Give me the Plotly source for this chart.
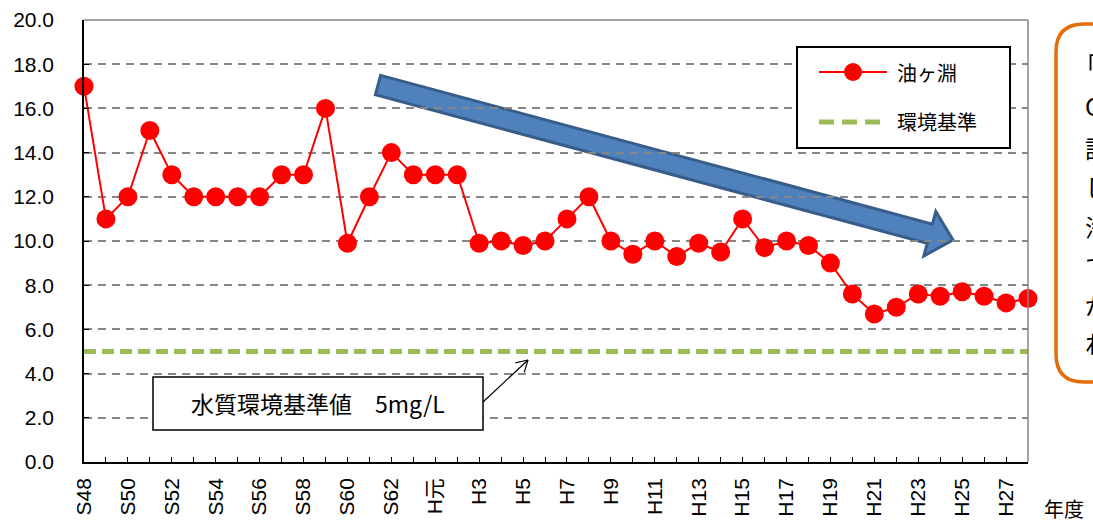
import plotly.graph_objects as go
import math

categories = ["S48","S49","S50","S51","S52","S53","S54","S55","S56","S57","S58","S59","S60","S61","S62","S63",
              "H元","H2","H3","H4","H5","H6","H7","H8","H9","H10","H11","H12","H13","H14","H15","H16","H17",
              "H18","H19","H20","H21","H22","H23","H24","H25","H26","H27","H28"]
abura = [17.0,11.0,12.0,15.0,13.0,12.0,12.0,12.0,12.0,13.0,13.0,16.0,9.9,12.0,14.0,13.0,
         13.0,13.0,9.9,10.0,9.8,10.0,11.0,12.0,10.0,9.4,10.0,9.3,9.9,9.5,11.0,9.7,10.0,
         9.8,9.0,7.6,6.7,7.0,7.6,7.5,7.7,7.5,7.2,7.4]
standard_value = 5.0
standard = [standard_value] * len(categories)

W, H = 1093, 524
L, R, T, B = 84, 1028, 20, 462
def px(x): return (x - L) / (R - L)
def py(y): return (B - y) / (B - T)

JP = "Noto Sans CJK JP"
LAT = "Liberation Sans, Noto Sans CJK JP"

xi = list(range(len(categories)))
fig = go.Figure()
fig.add_trace(go.Scatter(x=xi, y=standard, mode="lines", name="環境基準",
                         line=dict(color="#9BBB59", width=5, dash="12px,6px"), hoverinfo="skip"))
fig.add_trace(go.Scatter(x=xi, y=abura, mode="lines+markers", name="油ヶ淵",
                         line=dict(color="#FF0000", width=2),
                         marker=dict(color="#FF0000", size=19), cliponaxis=False))

shapes = []
shapes.append(dict(type="line", xref="paper", yref="paper", x0=0, x1=1, y0=1, y1=1,
                   line=dict(color="#868686", width=1.5)))
shapes.append(dict(type="line", xref="paper", yref="paper", x0=1, x1=1, y0=0, y1=1,
                   line=dict(color="#868686", width=1.5)))

# big blue arrow
Tx, Ty, Px, Py = 378, 85, 953, 240
dx, dy = Px - Tx, Py - Ty
ln = math.hypot(dx, dy)
d = (dx / ln, dy / ln); n = (-d[1], d[0])
Bx, By = Px - 24 * d[0], Py - 24 * d[1]
pts = [(Tx - 10 * n[0], Ty - 10 * n[1]), (Bx - 10 * n[0], By - 10 * n[1]),
       (Bx - 23 * n[0], By - 23 * n[1]), (Px, Py),
       (Bx + 23 * n[0], By + 23 * n[1]), (Bx + 10 * n[0], By + 10 * n[1]),
       (Tx + 10 * n[0], Ty + 10 * n[1])]
path = "M " + " L ".join(f"{px(a):.5f},{py(b):.5f}" for a, b in pts) + " Z"
shapes.append(dict(type="path", xref="paper", yref="paper", path=path,
                   fillcolor="#4F81BD", line=dict(color="#385D8A", width=3), layer="below"))

# legend box
shapes.append(dict(type="rect", xref="paper", yref="paper", x0=px(797), x1=px(1010), y0=py(148), y1=py(47),
                   fillcolor="white", line=dict(color="black", width=2)))
shapes.append(dict(type="line", xref="paper", yref="paper", x0=px(819), x1=px(887), y0=py(72), y1=py(72),
                   line=dict(color="#FF0000", width=2)))
shapes.append(dict(type="circle", xref="paper", yref="paper", x0=px(844), x1=px(862), y0=py(81), y1=py(63),
                   fillcolor="#FF0000", line=dict(color="#FF0000", width=0)))
shapes.append(dict(type="line", xref="paper", yref="paper", x0=px(819), x1=px(884), y0=py(122), y1=py(122),
                   line=dict(color="#9BBB59", width=5, dash="15px,8px")))

# annotation box
shapes.append(dict(type="rect", xref="paper", yref="paper", x0=px(153), x1=px(483), y0=py(430), y1=py(377),
                   fillcolor="white", line=dict(color="black", width=1.5)))
ax0, ay0, ax1, ay1 = 483, 402, 528, 360
shapes.append(dict(type="line", xref="paper", yref="paper", x0=px(ax0), y0=py(ay0), x1=px(ax1), y1=py(ay1),
                   line=dict(color="black", width=1.2)))
ux, uy = ax1 - ax0, ay1 - ay0
ul = math.hypot(ux, uy); ux, uy = ux / ul, uy / ul
for ang in (math.radians(30), math.radians(-30)):
    bx = -(ux * math.cos(ang) - uy * math.sin(ang)) * 13
    by = -(ux * math.sin(ang) + uy * math.cos(ang)) * 13
    shapes.append(dict(type="line", xref="paper", yref="paper", x0=px(ax1), y0=py(ay1),
                       x1=px(ax1 + bx), y1=py(ay1 + by), line=dict(color="black", width=1.2)))

# orange rounded box (clipped at right)
r = 28
xl, yt, yb, xr = 1056, 24, 382, 1200
opath = (f"M {px(xr)},{py(yt)} L {px(xl + r)},{py(yt)} Q {px(xl)},{py(yt)} {px(xl)},{py(yt + r)} "
         f"L {px(xl)},{py(yb - r)} Q {px(xl)},{py(yb)} {px(xl + r)},{py(yb)} L {px(xr)},{py(yb)}")
shapes.append(dict(type="path", xref="paper", yref="paper", path=opath,
                   line=dict(color="#E46C0A", width=3.5)))

annotations = []
annotations.append(dict(xref="paper", yref="paper", x=px(895), y=py(72), text="油ヶ淵", showarrow=False,
                        xanchor="left", yanchor="middle", font=dict(family=JP, size=20, color="black")))
annotations.append(dict(xref="paper", yref="paper", x=px(895), y=py(122), text="環境基準", showarrow=False,
                        xanchor="left", yanchor="middle", font=dict(family=JP, size=20, color="black")))
annotations.append(dict(xref="paper", yref="paper", x=px(318), y=py(403), text="水質環境基準値　5mg/L",
                        showarrow=False, xanchor="center", yanchor="middle",
                        font=dict(family=JP, size=23, color="black")))
annotations.append(dict(xref="paper", yref="paper", x=px(1042), y=py(508), text="年度", showarrow=False,
                        xanchor="left", yanchor="middle", font=dict(family=JP, size=20, color="black")))
box_lines = ["「油ヶ淵」", "COD値は", "計画的な", "しゅんせつ", "浄化対策", "て改善", "が見ら", "れる"]
box_y = [65, 106, 147, 186, 226, 265, 304, 342]
box_x = [1072, 1083, 1083, 1083, 1083, 1083, 1083, 1083]
for t, xx, yy in zip(box_lines, box_x, box_y):
    annotations.append(dict(xref="paper", yref="paper", x=px(xx), y=py(yy), text=t, showarrow=False,
                            xanchor="left", yanchor="middle", font=dict(family=JP, size=24, color="black")))

fig.update_layout(
    width=W, height=H,
    margin=dict(l=L, r=W - R, t=T, b=H - B, autoexpand=False),
    paper_bgcolor="white", plot_bgcolor="rgba(0,0,0,0)",
    showlegend=False,
    shapes=shapes, annotations=annotations,
    font=dict(family=LAT, color="black"),
)
fig.update_xaxes(range=[0, len(categories) - 1], tickmode="array",
                 tickvals=xi[::2], ticktext=categories[::2], tickangle=-90,
                 tickfont=dict(family=LAT, size=21, color="black"),
                 ticks="inside", ticklen=5, tickcolor="black", tickwidth=1,
                 minor=dict(dtick=1, tick0=0, ticks="inside", ticklen=5, tickcolor="black", showgrid=False),
                 showgrid=False, zeroline=False, showline=True, linecolor="black", linewidth=1.5,
                 ticklabelstandoff=6, automargin=False)
fig.update_yaxes(range=[0, 20], dtick=2, tickformat=".1f",
                 tickfont=dict(family=LAT, size=21, color="black"),
                 ticks="inside", ticklen=5, tickcolor="black",
                 showgrid=True, gridcolor="#868686", gridwidth=1.5, griddash="8px,6px",
                 zeroline=False, showline=True, linecolor="black", linewidth=1.5,
                 ticklabelstandoff=24, automargin=False)

fig.write_html("out.html", config={"displayModeBar": False},
               post_script="document.body.style.margin='0';document.body.style.overflow='hidden';")
